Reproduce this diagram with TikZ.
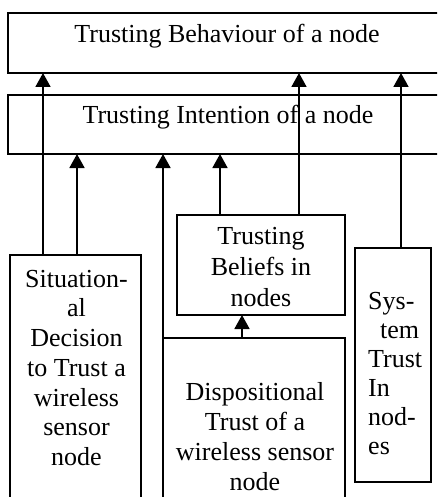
\documentclass[tikz,border=0pt]{standalone}
\usepackage{fontspec}
\setmainfont{Liberation Serif}
\usetikzlibrary{arrows.meta}

% zero-width strut fixing the height of a first text line
\newcommand\lnstrut{\rule{0pt}{21pt}}

\begin{document}
\begin{tikzpicture}[x=1pt,y=-1pt,
  box/.style={draw,line width=1.8pt,rectangle,inner sep=0pt,outer sep=0pt,anchor=north west},
  title/.style={inner sep=0pt,anchor=base,font=\fontsize{26}{30}\selectfont},
  lbl/.style={inner sep=0pt,anchor=north,align=center},
  arr/.style={line width=1.8pt,-{Triangle[length=14pt,width=15pt]}}]
\useasboundingbox (0,0) rectangle (437,497);
\clip (0,0) rectangle (437,497);

% boxes
\node[box,minimum width=442pt,minimum height=60pt] (beh) at (8,13) {};
\node[box,minimum width=442pt,minimum height=59pt] (int) at (8,95) {};
\node[box,minimum width=131pt,minimum height=260pt] (sit) at (10,255) {};
\node[box,minimum width=168pt,minimum height=100pt] (bel) at (177,215) {};
\node[box,minimum width=182pt,minimum height=180pt] (dis) at (163,338) {};
\node[box,minimum width=76pt,minimum height=234pt] (sys) at (355,248) {};

% texts
\node[title] (tbeh) at (227,43) {Trusting Behaviour of a node};
\node[title] (tint) at (228,124) {Trusting Intention of a node};
\node[lbl,font=\fontsize{26}{29.7}\selectfont] (tsit) at (76.5,266)
  {\lnstrut Situation-\\al\\Decision\\to Trust a\\wireless\\sensor\\node};
\node[lbl,font=\fontsize{26}{31}\selectfont] (tbel) at (261,223)
  {\lnstrut Trusting\\Beliefs in\\nodes};
\node[lbl,font=\fontsize{26}{30}\selectfont] (tdis) at (255,379)
  {\lnstrut Dispositional\\Trust of a\\wireless sensor\\node};
\node[inner sep=0pt,anchor=north west,align=left,font=\fontsize{26}{29}\selectfont] (tsys) at (368,288)
  {\lnstrut Sys-\\\hspace*{12pt}tem\\Trust\\In\\nod-\\es};

% connector columns
\coordinate (c1) at (43,0);
\coordinate (c2) at (77,0);
\coordinate (c4) at (220,0);
\coordinate (c5) at (299,0);
\coordinate (c6) at (401,0);
\coordinate (c7) at (242,0);

% connectors
\draw[arr] (sit.north -| c1) -- (beh.south -| c1);
\draw[arr] (sit.north -| c2) -- (int.south -| c2);
\draw[arr] (dis.south west) -- (dis.south west |- int.south);
\draw[arr] (bel.north -| c4) -- (int.south -| c4);
\draw[arr] (bel.north -| c5) -- (beh.south -| c5);
\draw[arr] (sys.north -| c6) -- (beh.south -| c6);
\draw[arr] (dis.north -| c7) -- (bel.south -| c7);
\end{tikzpicture}
\end{document}
